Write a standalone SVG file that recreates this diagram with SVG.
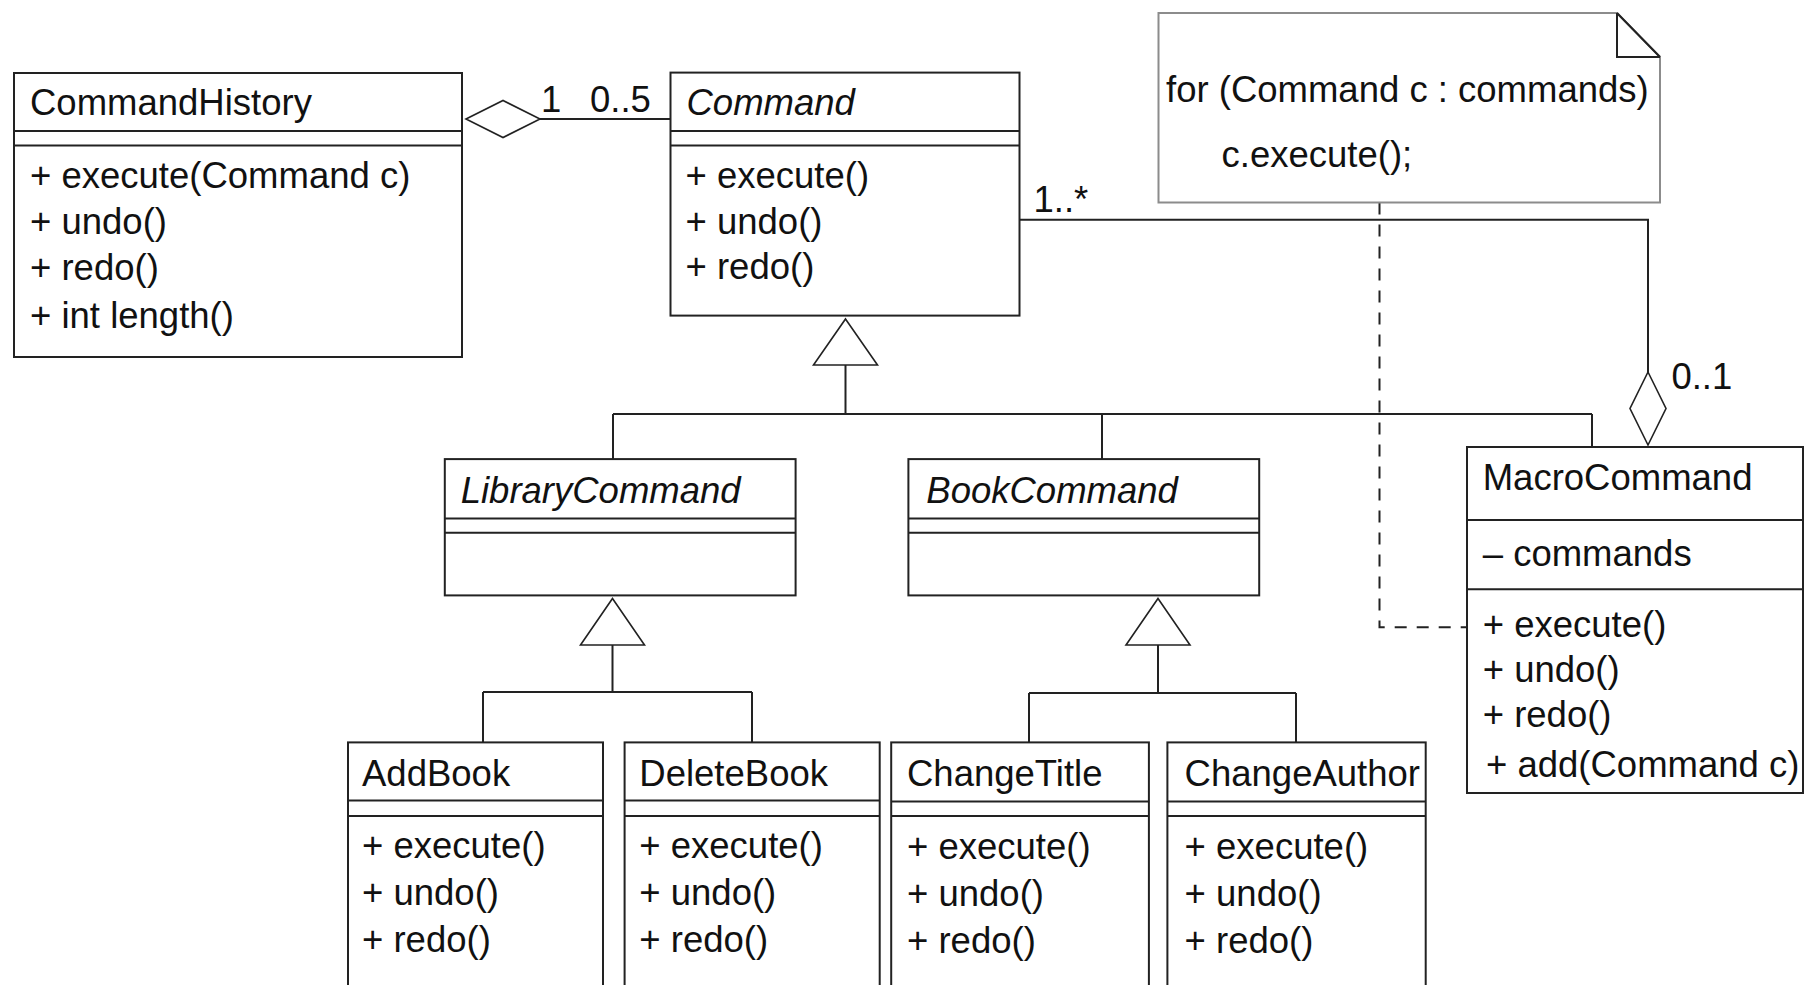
<svg xmlns="http://www.w3.org/2000/svg" width="1806" height="985" viewBox="0 0 1806 985">
<style>
.box{fill:#fff;stroke:#222;stroke-width:2}
.ln{fill:none;stroke:#222;stroke-width:2}
.hd{fill:#fff;stroke:#222;stroke-width:1.6}
.t{font-family:"Liberation Sans",Arial,sans-serif;font-size:36.5px;fill:#111}
.i{font-style:italic}
</style>
<rect width="1806" height="985" fill="#fff"/>
<g id="connectors">
  <path class="ln" d="M540,119 H670.5"/>
  <polygon class="hd" points="466,119 503,100.5 540,119 503,137.5"/>
  <text class="t" x="541" y="112">1</text>
  <text class="t" x="590" y="112">0..5</text>
  <path class="ln" d="M845.5,365 V414 M613,414 H1592 M613,414 V459 M1102,414 V459 M1592,414 V447"/>
  <polygon class="hd" points="845.5,319 877.5,365 813.5,365"/>
  <path class="ln" d="M612.5,645 V692 M483,692 H752 M483,692 V742.4 M752,692 V742.4"/>
  <polygon class="hd" points="612.5,598.5 644.5,645 580.5,645"/>
  <path class="ln" d="M1158,645 V693 M1029,693 H1296 M1029,693 V742.4 M1296,693 V742.4"/>
  <polygon class="hd" points="1158,598.5 1190,645 1126,645"/>
  <path class="ln" d="M1019.5,219.7 H1648 V372"/>
  <polygon class="hd" points="1648,372 1666,408.5 1648,445 1630,408.5"/>
  <text class="t" x="1033.5" y="211.7">1..*</text>
  <text class="t" x="1671.4" y="389.3">0..1</text>
  <path class="ln" d="M1379.5,202.5 V627.3 H1481" stroke-dasharray="12 10"/>
</g>
<g id="note">
  <path d="M1158.5,13 H1617 L1660,57 V202.5 H1158.5 Z" fill="#fff" stroke="#8c8c8c" stroke-width="2"/>
  <path class="ln" d="M1617,13 V57 H1660 M1617,13 L1660,57"/>
  <text class="t" x="1166" y="102.3">for (Command c : commands)</text>
  <text class="t" x="1221.5" y="166.8">c.execute();</text>
</g>
<g id="CommandHistory">
  <rect class="box" x="14" y="73" width="448" height="284"/>
  <path class="ln" d="M14,131 H462 M14,145.5 H462"/>
  <text class="t" x="30" y="115">CommandHistory</text>
  <text class="t" x="30" y="188">+ execute(Command c)</text>
  <text class="t" x="30" y="234">+ undo()</text>
  <text class="t" x="30" y="279.5">+ redo()</text>
  <text class="t" x="30" y="328">+ int length()</text>
</g>
<g id="Command">
  <rect class="box" x="670.5" y="72.6" width="349" height="243"/>
  <path class="ln" d="M670.5,131 H1019.5 M670.5,145.5 H1019.5"/>
  <text class="t i" x="686.5" y="115">Command</text>
  <text class="t" x="685.5" y="188">+ execute()</text>
  <text class="t" x="685.5" y="233.5">+ undo()</text>
  <text class="t" x="685.5" y="278.5">+ redo()</text>
</g>
<g id="LibraryCommand">
  <rect class="box" x="444.8" y="459.1" width="350.8" height="136.3"/>
  <path class="ln" d="M444.8,518.6 H795.6 M444.8,532.8 H795.6"/>
  <text class="t i" x="460.7" y="502.6">LibraryCommand</text>
</g>
<g id="BookCommand">
  <rect class="box" x="908.4" y="459.1" width="350.8" height="136.3"/>
  <path class="ln" d="M908.4,518.6 H1259.2 M908.4,532.8 H1259.2"/>
  <text class="t i" x="926.3" y="502.6">BookCommand</text>
</g>
<g id="AddBook">
  <rect class="box" x="348" y="742.4" width="255" height="262"/>
  <path class="ln" d="M348,800.5 H603 M348,816 H603"/>
  <text class="t" x="362" y="786">AddBook</text>
  <text class="t" x="362" y="858">+ execute()</text>
  <text class="t" x="362" y="905">+ undo()</text>
  <text class="t" x="362" y="952">+ redo()</text>
</g>
<g id="DeleteBook">
  <rect class="box" x="624.6" y="742.4" width="255.1" height="262"/>
  <path class="ln" d="M624.6,800.5 H879.7 M624.6,816 H879.7"/>
  <text class="t" x="639.3" y="786">DeleteBook</text>
  <text class="t" x="639.3" y="858">+ execute()</text>
  <text class="t" x="639.3" y="905">+ undo()</text>
  <text class="t" x="639.3" y="952">+ redo()</text>
</g>
<g id="ChangeTitle">
  <rect class="box" x="891.2" y="742.4" width="257.7" height="262"/>
  <path class="ln" d="M891.2,801.5 H1148.9 M891.2,816 H1148.9"/>
  <text class="t" x="907" y="786">ChangeTitle</text>
  <text class="t" x="907" y="859">+ execute()</text>
  <text class="t" x="907" y="906">+ undo()</text>
  <text class="t" x="907" y="953">+ redo()</text>
</g>
<g id="ChangeAuthor">
  <rect class="box" x="1167.4" y="742.4" width="258.3" height="262"/>
  <path class="ln" d="M1167.4,801.5 H1425.7 M1167.4,816 H1425.7"/>
  <text class="t" x="1184.6" y="786">ChangeAuthor</text>
  <text class="t" x="1184.6" y="859">+ execute()</text>
  <text class="t" x="1184.6" y="906">+ undo()</text>
  <text class="t" x="1184.6" y="953">+ redo()</text>
</g>
<g id="MacroCommand">
  <rect class="box" x="1467" y="447" width="336" height="346"/>
  <path class="ln" d="M1467,520 H1803 M1467,589.3 H1803"/>
  <text class="t" x="1482.7" y="490">MacroCommand</text>
  <text class="t" x="1482.7" y="565.7">– commands</text>
  <text class="t" x="1482.7" y="636.7">+ execute()</text>
  <text class="t" x="1482.7" y="681.7">+ undo()</text>
  <text class="t" x="1482.7" y="726.7">+ redo()</text>
  <text class="t" x="1486" y="776.7">+ add(Command c)</text>
</g>
</svg>
